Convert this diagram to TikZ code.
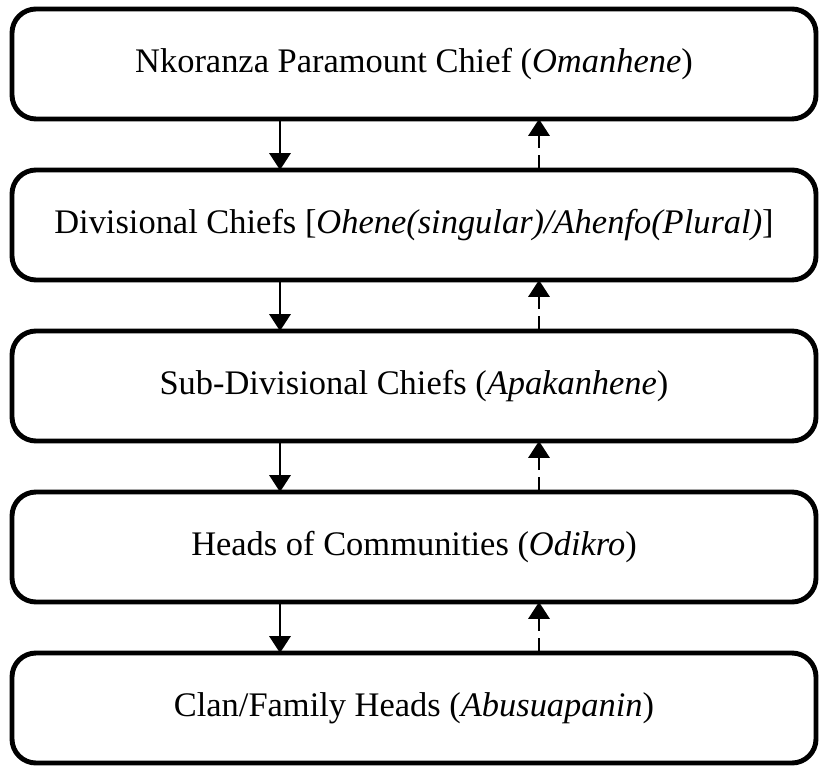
\documentclass[tikz,border=0pt]{standalone}
\usepackage{fontspec}
\setmainfont{Liberation Serif}
\usepackage{tikz}
\usetikzlibrary{arrows.meta, positioning, calc}
\tikzstyle{level} = [rectangle, draw=black, fill=white, minimum width=20.1cm, minimum height=2.75cm, text centered, rounded corners=0.6cm, line width=3.5pt, outer sep=0pt, font=\fontsize{24.5}{29}\selectfont]
\tikzstyle{down} = [-{Triangle[width=15pt,length=12pt]}, line width=2pt]
\tikzstyle{up} = [-{Triangle[width=15pt,length=12pt]}, line width=2pt, dash pattern=on 11pt off 5pt]

\begin{document}
\begin{tikzpicture}[node distance=1.275cm]
        \useasboundingbox (0,0) rectangle (20.5,-19.15);

        % --- chiefs, top to bottom ---
        \node [level] (omanhene) at (10.35,-1.6) {Nkoranza Paramount Chief (\textit{Omanhene})};
        \node [level, below=of omanhene] (ohene) {Divisional Chiefs [\textit{Ohene(singular)/Ahenfo(Plural)}]};
        \node [level, below=of ohene] (apakanhene) {Sub-Divisional Chiefs (\textit{Apakanhene})};
        \node [level, below=of apakanhene] (odikro) {Heads of Communities (\textit{Odikro})};
        \node [level, below=of odikro] (abusua) {Clan/Family Heads (\textit{Abusuapanin})};

        % Connect levels
        \foreach \a/\b in {omanhene/ohene, ohene/apakanhene, apakanhene/odikro, odikro/abusua} {
            \draw [down] ($(\a.south) + (-3.35,0)$) -- ($(\b.north) + (-3.35,0)$);
            \draw [up] ($(\b.north) + (3.125,0)$) -- ($(\a.south) + (3.125,0)$);
        }
\end{tikzpicture}
\end{document}
